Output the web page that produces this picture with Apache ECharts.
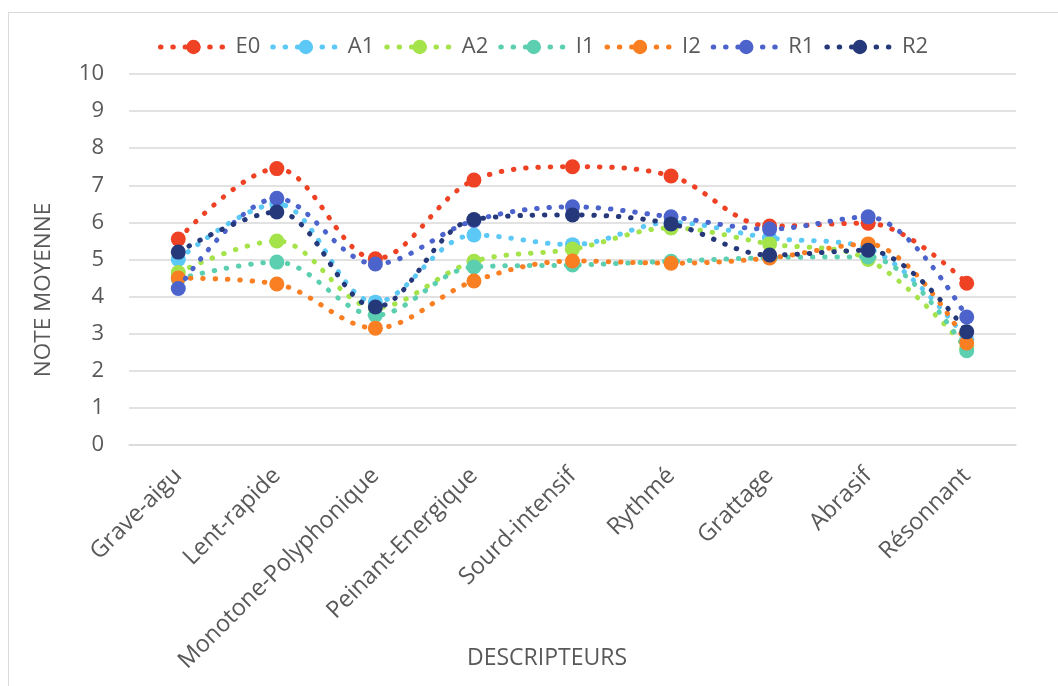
<!DOCTYPE html>
<html>
<head>
<meta charset="utf-8">
<script src="https://cdn.jsdelivr.net/npm/echarts@6/dist/echarts.min.js"></script>
<style>
html,body{margin:0;padding:0;background:#fff;}
#frame{position:absolute;left:8px;top:12px;width:1100px;height:720px;border:1.5px solid #d9d9d9;box-sizing:border-box;}
#chart{position:absolute;left:0;top:0;width:1058px;height:686px;}
</style>
</head>
<body>
<div id="frame"></div>
<div id="chart"></div>
<script>
const categories = ['Grave-aigu','Lent-rapide','Monotone-Polyphonique','Peinant-Energique','Sourd-intensif','Rythmé','Grattage','Abrasif','Résonnant'];
const yTicks = [0,1,2,3,4,5,6,7,8,9,10];
const seriesNames = ['E0','A1','A2','I1','I2','R1','R2'];
const E0 = [5.55, 7.45, 5.02, 7.14, 7.50, 7.25, 5.90, 5.98, 4.36];
const A1 = [5.00, 6.50, 3.85, 5.66, 5.40, 6.00, 5.58, 5.30, 2.85];
const A2 = [4.65, 5.50, 3.70, 4.95, 5.28, 5.85, 5.42, 5.00, 2.60];
const I1 = [4.48, 4.93, 3.50, 4.80, 4.85, 4.95, 5.05, 5.07, 2.54];
const I2 = [4.50, 4.34, 3.15, 4.42, 4.96, 4.90, 5.04, 5.42, 2.75];
const R1 = [4.22, 6.65, 4.88, 6.05, 6.42, 6.15, 5.82, 6.15, 3.45];
const R2 = [5.20, 6.28, 3.72, 6.08, 6.20, 5.96, 5.12, 5.25, 3.05];
const colors = ['#EF4123','#5BC8F5','#A5E34B','#5CCFB0','#FA7E22','#4C63CC','#253879'];

const values = [E0, A1, A2, I1, I2, R1, R2];
const FONT = '"Open Sans", sans-serif';
const TXT = '#595959';
const DOTS = [0.5, 11.8];

const chart = echarts.init(document.getElementById('chart'), null, {renderer:'canvas'});
chart.setOption({
  backgroundColor: 'transparent',
  animation: false,
  color: colors,
  legend: {
    top: 31,
    left: 153,
    itemWidth: 66,
    itemHeight: 18,
    itemGap: 10,
    lineStyle: {width: 5, type: DOTS, cap: 'round'},
    textStyle: {fontFamily: FONT, fontSize: 22, color: TXT, padding: [0,0,0,4]},
    data: seriesNames
  },
  grid: {left: 129, right: 42, top: 74, bottom: 241, containLabel: false},
  xAxis: {
    type: 'category',
    data: categories,
    boundaryGap: true,
    axisLine: {lineStyle: {color: '#d9d9d9', width: 1.5}},
    axisTick: {show: false},
    axisLabel: {rotate: 45, margin: 27, padding: [25,0,0,0], fontFamily: FONT, fontSize: 23.5, color: TXT, interval: 0}
  },
  yAxis: {
    type: 'value',
    min: yTicks[0],
    max: yTicks[yTicks.length-1],
    interval: 1,
    axisLine: {show: false},
    axisTick: {show: false},
    splitLine: {lineStyle: {color: '#d9d9d9', width: 1.5}},
    axisLabel: {margin: 25, fontFamily: FONT, fontSize: 22, color: TXT}
  },
  graphic: [
    {type: 'text', x: 44, y: 290, rotation: Math.PI/2,
     style: {text: 'NOTE MOYENNE', fontFamily: FONT, fontSize: 22.5, fill: TXT, align: 'center', verticalAlign: 'middle'}},
    {type: 'text', x: 547, y: 658,
     style: {text: 'DESCRIPTEURS', fontFamily: FONT, fontSize: 23, fill: TXT, align: 'center', verticalAlign: 'middle'}}
  ],
  series: seriesNames.map((n, i) => ({
    name: n,
    type: 'line',
    data: values[i],
    smooth: 0.35,
    symbol: 'circle',
    symbolSize: 15,
    z: 2 + i,
    itemStyle: {color: colors[i], borderWidth: 0},
    lineStyle: {color: colors[i], width: 5, type: DOTS, cap: 'round'}
  }))
});
</script>
</body>
</html>
